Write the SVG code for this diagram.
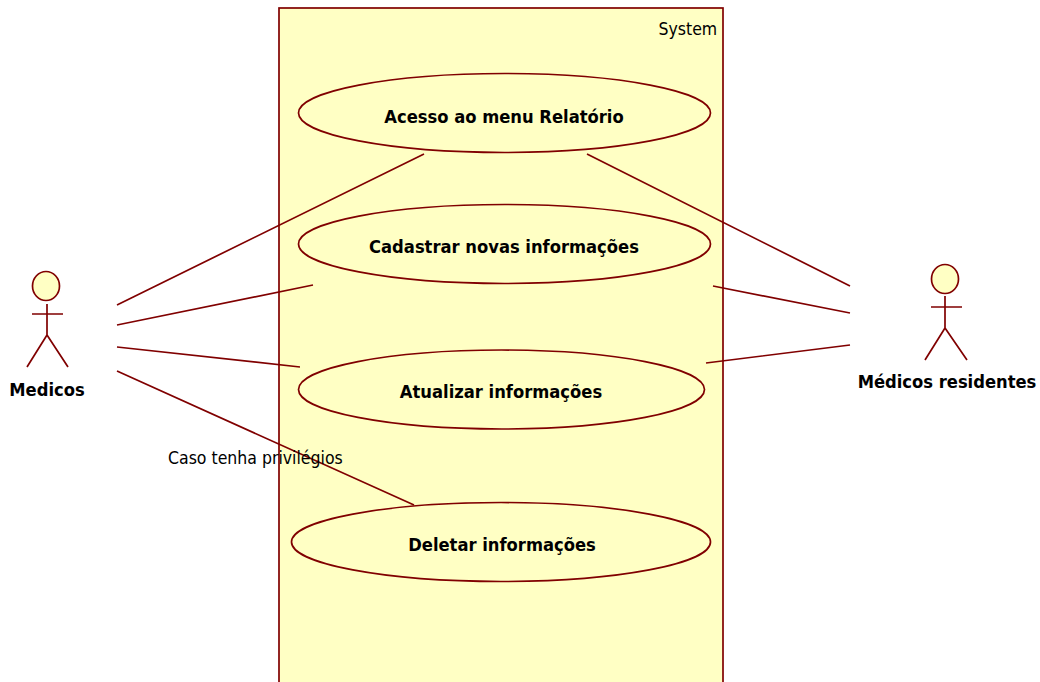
<svg xmlns="http://www.w3.org/2000/svg" width="1040" height="682" viewBox="0 0 1040 682">
<style>
.s{fill:#ffffc4;stroke:#800000;stroke-width:1.7}
.c{fill:none;stroke:#800000;stroke-width:1.7}
text{font-family:"DejaVu Sans Condensed","DejaVu Sans","Liberation Sans",sans-serif;fill:#000}
.b{font-weight:bold;font-size:18.2px;text-anchor:middle}
.l{font-size:17.5px}
</style>
<rect width="1040" height="682" fill="#fff"/>
<g id="system"><rect class="s" x="279" y="8" width="444" height="680"/><text class="l" x="658.500" y="35">System</text></g>
<g id="uc1"><ellipse class="s" cx="504.500" cy="113" rx="206" ry="39.500"/><text class="b" x="504" y="123">Acesso ao menu Relatório</text></g>
<g id="uc2"><ellipse class="s" cx="504.500" cy="244" rx="206" ry="39.500"/><text class="b" x="504" y="253">Cadastrar novas informações</text></g>
<g id="uc3"><ellipse class="s" cx="501.500" cy="389.500" rx="203" ry="39.500"/><text class="b" x="501" y="398">Atualizar informações</text></g>
<g id="uc4"><ellipse class="s" cx="501" cy="542" rx="209.500" ry="39.500"/><text class="b" x="502" y="551">Deletar informações</text></g>
<g id="medicos"><ellipse class="s" cx="46" cy="286" rx="13.500" ry="14.500"/><path class="c" d="M47 304V335M32 314H63M47 335L27 367M47 335L68 367"/><text class="b" x="47" y="396">Medicos</text></g>
<g id="residentes"><ellipse class="s" cx="945" cy="279" rx="13.500" ry="14.500"/><path class="c" d="M945 296V328M931 307H962M945 328L925 360M945 328L967 360"/><text class="b" x="947" y="388">Médicos residentes</text></g>
<g id="connectors">
<path class="c" d="M117 305L424 154M117 325L313 285M117 347L300 367M117 371L414 505M587 154L850 286M713 286L850 313M706 363L850 345"/>
</g>
<text class="l" x="168" y="464">Caso tenha privilégios</text>
</svg>
